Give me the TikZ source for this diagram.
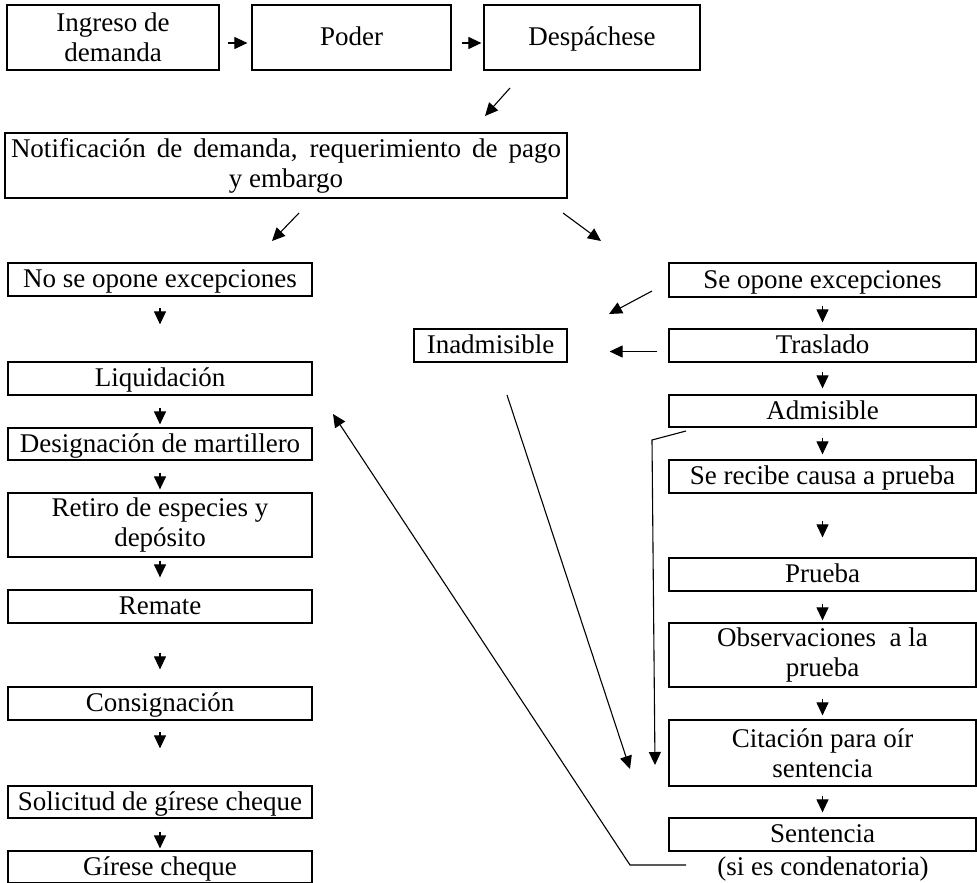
\documentclass[tikz,border=0pt]{standalone}
\usepackage{fontspec}
\setmainfont{Liberation Serif}
\usetikzlibrary{arrows.meta,calc}
\begin{document}
\begin{tikzpicture}[x=1pt,y=-1pt,
 txt/.style={font=\fontsize{27}{30}\selectfont},
 box/.style={draw, line width=1.2pt, inner sep=0pt, minimum height=33pt, txt, text height=19pt, text depth=3pt},
 box2/.style={draw, line width=1.2pt, inner sep=0pt, align=center, txt},
 arr/.style={-{Triangle[length=13pt,width=12pt]}, line width=1.1pt},
]
\useasboundingbox[fill=white] (0,0) rectangle (977,883);
% top row
\node[box2, minimum width=212pt, minimum height=65pt] (ingreso) at (113,37.5) {Ingreso de\\demanda};
\node[box, minimum width=199pt, minimum height=65pt] (poder) at (351.5,37.5) {Poder};
\node[box, minimum width=216pt, minimum height=65pt] (desp) at (592,37.5) {Despáchese};
\node[box2, minimum width=562pt, minimum height=65pt] (notif) at (286,165.5) {\makebox[550pt][s]{Notificación de demanda, requerimiento de pago}\\y embargo};
% left column
\node[box, minimum width=304pt] (noop) at (160,279.5) {No se opone excepciones};
\node[box, minimum width=304pt] (liq) at (160,378.5) {Liquidación};
\node[box, minimum width=304pt, minimum height=32pt] (desig) at (160,444) {Designación de martillero};
\node[box2, minimum width=304pt, minimum height=64pt] (retiro) at (160,525) {Retiro de especies y\\depósito};
\node[box, minimum width=304pt] (remate) at (160,606.5) {Remate};
\node[box, minimum width=304pt] (consig) at (160,703.5) {Consignación};
\node[box, minimum width=304pt, minimum height=32pt] (solic) at (160,802) {Solicitud de gírese cheque};
\node[box, minimum width=304pt, minimum height=32pt] (girese) at (160,867) {Gírese cheque};
% right column
\node[box, minimum width=307pt, minimum height=34pt] (seop) at (822.5,280) {Se opone excepciones};
\node[box, minimum width=307pt] (trasl) at (822.5,345.5) {Traslado};
\node[box, minimum width=153pt] (inadm) at (490.5,345.5) {Inadmisible};
\node[box, minimum width=307pt, minimum height=32pt] (admis) at (822.5,411) {Admisible};
\node[box, minimum width=307pt] (serec) at (822.5,476.5) {Se recibe causa a prueba};
\node[box, minimum width=307pt] (prueba) at (822.5,574.5) {Prueba};
\node[box2, minimum width=307pt, minimum height=64pt] (obs) at (822.5,655) {Observaciones\ \ a la\\prueba};
\node[box2, minimum width=307pt, minimum height=66pt] (citac) at (822.5,753) {Citación para oír\\sentencia};
\node[box, minimum width=307pt] (sent) at (822.5,834.5) {Sentencia};
\node[txt, inner sep=0pt, anchor=base] (cond) at (823,875) {(si es condenatoria)};
% top arrows
\draw[arr, shorten <=8pt, shorten >=4pt] ([yshift=-5.5pt]ingreso.east) -- ([yshift=-5.5pt]poder.west);
\draw[arr, shorten <=10pt, shorten >=2pt] ([yshift=-5.5pt]poder.east) -- ([yshift=-5.5pt]desp.west);
\coordinate (a1s) at (510,88);  \coordinate (a1e) at (485,116);
\draw[arr] (a1s) -- (a1e);
\coordinate (a2s) at (299,213); \coordinate (a2e) at (272,241);
\draw[arr] (a2s) -- (a2e);
\coordinate (a3s) at (563,213); \coordinate (a3e) at (601,241);
\draw[arr] (a3s) -- (a3e);
% left column arrows
\draw[arr, shorten <=11pt, shorten >=37pt] (noop.south) -- (liq.north);
\draw[arr, shorten <=12pt, shorten >=3pt] (liq.south) -- (desig.north);
\draw[arr, shorten <=12pt, shorten >=3pt] (desig.south) -- (retiro.north);
\draw[arr, shorten <=3pt, shorten >=12pt] (retiro.south) -- (remate.north);
\draw[arr, shorten <=29pt, shorten >=17pt] (remate.south) -- (consig.north);
\draw[arr, shorten <=11pt, shorten >=37pt] (consig.south) -- (solic.north);
\draw[arr, shorten <=13pt, shorten >=2pt] (solic.south) -- (girese.north);
% right column arrows
\draw[arr, shorten <=8pt, shorten >=6pt] (seop.south) -- (trasl.north);
\draw[arr, shorten <=9pt, shorten >=6pt] (trasl.south) -- (admis.north);
\draw[arr, shorten <=10pt, shorten >=5pt] (admis.south) -- (serec.north);
\draw[arr, shorten <=27pt, shorten >=20pt] (serec.south) -- (prueba.north);
\draw[arr, shorten <=12pt, shorten >=2pt] (prueba.south) -- (obs.north);
\draw[arr, shorten <=11pt, shorten >=4pt] (obs.south) -- (citac.north);
\draw[arr, shorten <=9pt, shorten >=5pt] (citac.south) -- (sent.north);
% to Inadmisible
\coordinate (b1s) at (652,291); \coordinate (b1e) at (609,314);
\draw[arr] (b1s) -- (b1e);
\draw[arr, shorten <=11pt, shorten >=42pt] ([yshift=-6pt]trasl.west) -- ([yshift=-6pt]inadm.east);
% long connectors
\coordinate (c1s) at (507,395); \coordinate (c1e) at (630,769);
\draw[arr] (c1s) -- (c1e);
\coordinate (c2s) at (686,431); \coordinate (c2m) at (652,440); \coordinate (c2e) at (655,765);
\draw[arr] (c2s) -- (c2m) -- (c2e);
\coordinate (r1) at (686,865); \coordinate (r2) at (630,865); \coordinate (r3) at (333,414);
\draw[arr] (r1) -- (r2) -- (r3);
\end{tikzpicture}
\end{document}
